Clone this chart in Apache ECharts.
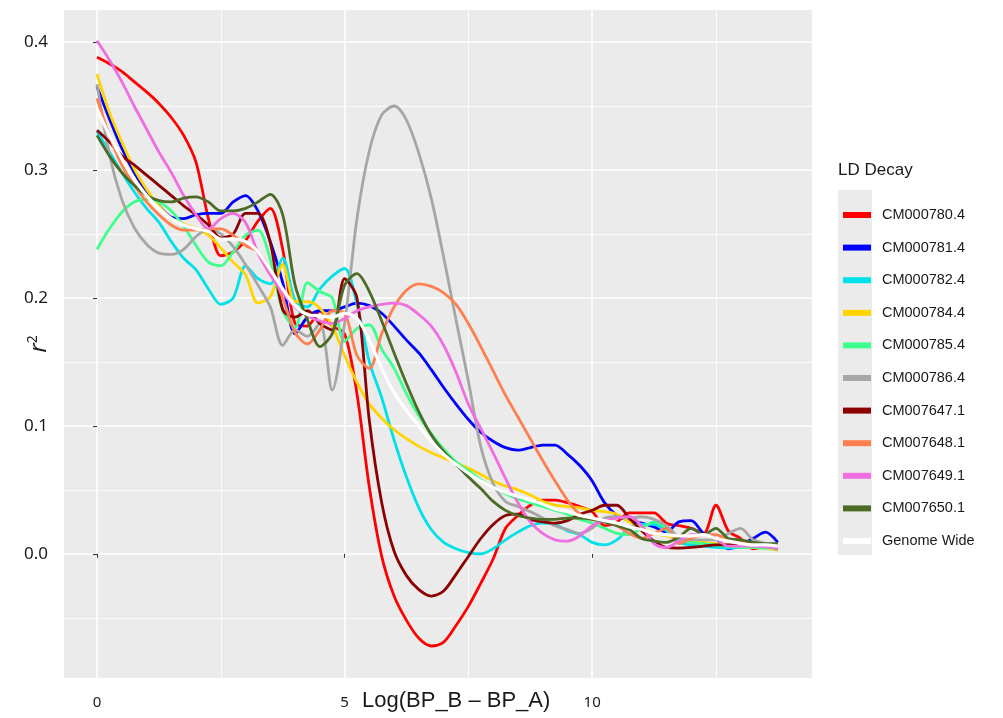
<!DOCTYPE html>
<html>
<head>
<meta charset="utf-8">
<script src="https://cdn.jsdelivr.net/npm/echarts@6/dist/echarts.min.js"></script>
<style>
  html, body { margin: 0; background: #fff; }
  #echarts { width: 1003px; height: 718px; }
</style>
</head>
<body>
<div id="echarts"></div>
<script>
// x positions: Log(BP_B - BP_A)
var xs = [0, 0.25, 0.5, 0.75, 1, 1.25, 1.5, 1.75, 2, 2.25,
  2.5, 2.75, 3, 3.25, 3.5, 3.75, 4, 4.25, 4.5, 4.75,
  5, 5.25, 5.5, 5.75, 6, 6.25, 6.5, 6.75, 7, 7.25,
  7.5, 7.75, 8, 8.25, 8.5, 8.75, 9, 9.25, 9.5, 9.75,
  10, 10.25, 10.5, 10.75, 11, 11.25, 11.5, 11.75, 12, 12.25,
  12.5, 12.75, 13, 13.25, 13.5, 13.75];

// r2 per chromosome
var cm780 = [0.388, 0.383, 0.377, 0.369, 0.361, 0.352, 0.341, 0.327, 0.306, 0.262,
  0.233, 0.236, 0.245, 0.260, 0.270, 0.238, 0.180, 0.178, 0.190, 0.178,
  0.172, 0.125, 0.052, -0.002, -0.033, -0.052, -0.066, -0.072, -0.069, -0.056,
  -0.041, -0.023, -0.004, 0.020, 0.030, 0.038, 0.042, 0.042, 0.040, 0.037,
  0.033, 0.022, 0.025, 0.032, 0.032, 0.032, 0.024, 0.022, 0.020, 0.016,
  0.038, 0.018, 0.012, 0.004, 0.006, 0.007];
var cm781 = [0.365, 0.340, 0.317, 0.298, 0.283, 0.272, 0.263, 0.262, 0.265, 0.266,
  0.266, 0.275, 0.280, 0.268, 0.244, 0.212, 0.172, 0.185, 0.190, 0.190,
  0.193, 0.196, 0.194, 0.188, 0.178, 0.167, 0.157, 0.144, 0.130, 0.117,
  0.105, 0.095, 0.088, 0.083, 0.081, 0.083, 0.085, 0.085, 0.078, 0.069,
  0.057, 0.040, 0.030, 0.026, 0.024, 0.021, 0.017, 0.025, 0.026, 0.016,
  0.012, 0.004, 0.007, 0.012, 0.017, 0.009];
var cm782 = [0.330, 0.314, 0.298, 0.283, 0.270, 0.259, 0.244, 0.231, 0.222, 0.207,
  0.195, 0.200, 0.225, 0.215, 0.211, 0.231, 0.198, 0.193, 0.207, 0.217,
  0.223, 0.195, 0.150, 0.122, 0.089, 0.060, 0.036, 0.019, 0.009, 0.004,
  0.001, 0.000, 0.004, 0.011, 0.017, 0.022, 0.024, 0.023, 0.018, 0.015,
  0.009, 0.007, 0.011, 0.020, 0.023, 0.023, 0.018, 0.009, 0.007, 0.006,
  0.005, 0.0045, 0.005, 0.006, 0.005, 0.0045];
var cm784 = [0.375, 0.345, 0.322, 0.301, 0.285, 0.272, 0.262, 0.258, 0.254, 0.249,
  0.239, 0.228, 0.218, 0.196, 0.201, 0.226, 0.197, 0.197, 0.192, 0.178,
  0.155, 0.134, 0.117, 0.106, 0.097, 0.090, 0.084, 0.079, 0.075, 0.071,
  0.067, 0.062, 0.057, 0.053, 0.050, 0.046, 0.041, 0.038, 0.037, 0.036,
  0.034, 0.033, 0.031, 0.025, 0.020, 0.016, 0.014, 0.012, 0.011, 0.009,
  0.008, 0.007, 0.006, 0.005, 0.0045, 0.003];
var cm785 = [0.238, 0.254, 0.267, 0.275, 0.277, 0.275, 0.268, 0.256, 0.241, 0.228,
  0.225, 0.236, 0.249, 0.253, 0.230, 0.190, 0.177, 0.212, 0.205, 0.200,
  0.166, 0.176, 0.179, 0.160, 0.145, 0.125, 0.108, 0.094, 0.082, 0.072,
  0.065, 0.058, 0.052, 0.047, 0.043, 0.040, 0.037, 0.034, 0.031, 0.027,
  0.024, 0.020, 0.016, 0.015, 0.020, 0.025, 0.020, 0.011, 0.009, 0.008,
  0.007, 0.006, 0.005, 0.005, 0.0045, 0.0045];
var cm786 = [0.367, 0.312, 0.277, 0.255, 0.242, 0.235, 0.234, 0.238, 0.248, 0.254,
  0.250, 0.240, 0.226, 0.210, 0.193, 0.163, 0.175, 0.170, 0.180, 0.128,
  0.180, 0.262, 0.315, 0.343, 0.350, 0.339, 0.313, 0.278, 0.232, 0.183,
  0.135, 0.084, 0.055, 0.041, 0.037, 0.033, 0.028, 0.022, 0.019, 0.016,
  0.020, 0.028, 0.029, 0.028, 0.029, 0.027, 0.022, 0.013, 0.011, 0.011,
  0.011, 0.016, 0.020, 0.011, 0.008, 0.003];
var cm7647 = [0.331, 0.322, 0.311, 0.304, 0.296, 0.288, 0.280, 0.272, 0.265, 0.257,
  0.247, 0.250, 0.266, 0.266, 0.243, 0.191, 0.185, 0.190, 0.180, 0.175,
  0.215, 0.200, 0.104, 0.040, 0.002, -0.017, -0.028, -0.033, -0.029, -0.016,
  -0.002, 0.012, 0.023, 0.030, 0.031, 0.027, 0.025, 0.024, 0.026, 0.031,
  0.034, 0.038, 0.038, 0.028, 0.018, 0.010, 0.005, 0.0045, 0.005, 0.006,
  0.007, 0.007, 0.007, 0.008, 0.007, 0.006];
var cm7648 = [0.356, 0.327, 0.304, 0.288, 0.275, 0.265, 0.257, 0.253, 0.253, 0.254,
  0.254, 0.249, 0.241, 0.236, 0.222, 0.200, 0.173, 0.164, 0.175, 0.190,
  0.188, 0.155, 0.145, 0.172, 0.193, 0.206, 0.211, 0.209, 0.204, 0.195,
  0.180, 0.162, 0.143, 0.124, 0.107, 0.090, 0.073, 0.057, 0.042, 0.031,
  0.027, 0.025, 0.022, 0.016, 0.012, 0.016, 0.020, 0.008, 0.012, 0.015,
  0.015, 0.011, 0.010, 0.007, 0.006, 0.0055];
var cm7649 = [0.401, 0.386, 0.369, 0.350, 0.332, 0.314, 0.298, 0.280, 0.265, 0.254,
  0.262, 0.266, 0.259, 0.235, 0.218, 0.204, 0.193, 0.186, 0.182, 0.180,
  0.184, 0.190, 0.193, 0.195, 0.196, 0.194, 0.187, 0.178, 0.163, 0.142,
  0.117, 0.098, 0.079, 0.059, 0.040, 0.025, 0.016, 0.011, 0.010, 0.014,
  0.022, 0.026, 0.028, 0.029, 0.022, 0.008, 0.005, 0.010, 0.015, 0.015,
  0.012, 0.006, 0.006, 0.006, 0.0055, 0.0045];
var cm7650 = [0.327, 0.311, 0.298, 0.288, 0.280, 0.276, 0.275, 0.278, 0.279, 0.275,
  0.268, 0.268, 0.270, 0.275, 0.281, 0.265, 0.210, 0.183, 0.162, 0.172,
  0.210, 0.219, 0.205, 0.182, 0.157, 0.133, 0.111, 0.093, 0.080, 0.070,
  0.060, 0.051, 0.041, 0.034, 0.030, 0.028, 0.027, 0.027, 0.028, 0.028,
  0.027, 0.025, 0.022, 0.019, 0.012, 0.010, 0.009, 0.013, 0.020, 0.015,
  0.020, 0.012, 0.011, 0.009, 0.008, 0.008];
var genome = [0.348, 0.327, 0.309, 0.293, 0.280, 0.270, 0.262, 0.257, 0.254, 0.252,
  0.246, 0.246, 0.244, 0.236, 0.222, 0.207, 0.194, 0.187, 0.186, 0.185,
  0.188, 0.184, 0.167, 0.145, 0.126, 0.112, 0.100, 0.088, 0.078, 0.070,
  0.063, 0.057, 0.052, 0.048, 0.045, 0.042, 0.039, 0.035, 0.033, 0.030,
  0.028, 0.026, 0.024, 0.021, 0.019, 0.016, 0.015, 0.014, 0.014, 0.015,
  0.012, 0.010, 0.008, 0.007, 0.007, 0.006];

var names = ["CM000780.4", "CM000781.4", "CM000782.4", "CM000784.4", "CM000785.4",
  "CM000786.4", "CM007647.1", "CM007648.1", "CM007649.1", "CM007650.1", "Genome Wide"];
var values = [cm780, cm781, cm782, cm784, cm785, cm786, cm7647, cm7648, cm7649, cm7650, genome];
var colors = ["#ff0000", "#0000ff", "#00e1ea", "#ffd400", "#3dff8c",
  "#a6a6a6", "#8b0000", "#ff7f4e", "#f06ee0", "#4b6b26", "#ffffff"];

// axis ticks / grid lines
var xTicks = [0, 5, 10];
var xMinor = [2.5, 7.5, 12.5];
var yTicks = [0, 0.1, 0.2, 0.3, 0.4];
var yMinor = [-0.05, 0.05, 0.15, 0.25, 0.35];

var chartDom = document.getElementById("echarts");
var myChart = echarts.init(chartDom);
var option;

var gridLines = [];
xTicks.forEach(function (v) { gridLines.push({ xAxis: v, lineStyle: { width: 1.6 } }); });
xMinor.forEach(function (v) { gridLines.push({ xAxis: v, lineStyle: { width: 0.8 } }); });
yTicks.forEach(function (v) { gridLines.push({ yAxis: v, lineStyle: { width: 1.6 } }); });
yMinor.forEach(function (v) { gridLines.push({ yAxis: v, lineStyle: { width: 0.8 } }); });

var series = [
  {
    // panel grid lines, kept under the curves
    type: "line",
    data: [],
    silent: true,
    z: 0,
    markLine: {
      silent: true,
      symbol: "none",
      animation: false,
      z: 0,
      label: { show: false },
      lineStyle: { color: "#ffffff", type: "solid" },
      data: gridLines
    }
  }
];

names.forEach(function (name, k) {
  series.push({
    name: name,
    type: "line",
    z: 3,
    data: xs.map(function (x, i) { return [x, values[k][i]]; }),
    showSymbol: false,
    smooth: 0.3,
    lineStyle: { color: colors[k], width: k === 10 ? 3.2 : 2.8 },
    itemStyle: { color: colors[k] }
  });
});

option = {
  animation: false,
  backgroundColor: "#ffffff",
  grid: {
    left: 64,
    right: 191,
    top: 10,
    bottom: 40,
    outerBoundsMode: "none",
    containLabel: false,
    show: true,
    backgroundColor: "#ebebeb",
    borderWidth: 0
  },
  xAxis: {
    type: "value",
    min: -0.667,
    max: 14.44,
    axisLine: { show: false },
    splitLine: { show: false },
    axisTick: { show: true, length: 4, customValues: xTicks, lineStyle: { color: "#333" } },
    axisLabel: {
      customValues: xTicks,
      margin: 17,
      fontSize: 15,
      color: "#1a1a1a",
      fontFamily: "Noto Sans"
    }
  },
  yAxis: {
    type: "value",
    min: -0.097,
    max: 0.425,
    axisLine: { show: false },
    splitLine: { show: false },
    axisTick: { show: true, length: 4, customValues: yTicks, lineStyle: { color: "#333" } },
    axisLabel: {
      customValues: yTicks,
      margin: 16,
      fontSize: 17,
      color: "#1a1a1a",
      fontFamily: "Noto Sans",
      formatter: function (v) { return v.toFixed(1); }
    },
    name: "{r|r}{s|2}",
    nameLocation: "middle",
    nameGap: 12,
    nameMoveOverlap: false,
    nameTextStyle: {
      rich: {
        r: { fontSize: 24, fontStyle: "italic", fontFamily: "Noto Sans", color: "#1a1a1a" },
        s: { fontSize: 14, fontFamily: "Noto Sans", color: "#1a1a1a", padding: [0, 0, 12, 0] }
      }
    }
  },
  legend: {
    data: names,
    orient: "vertical",
    left: 838,
    top: 201,
    icon: "rect",
    itemWidth: 28,
    itemHeight: 6,
    itemGap: 14.6,
    selectedMode: false,
    textStyle: {
      fontSize: 14.5,
      lineHeight: 18,
      color: "#1a1a1a",
      fontFamily: "Liberation Sans",
      padding: [0, 0, 0, 6]
    }
  },
  graphic: [
    {
      type: "rect",
      left: 838,
      top: 190,
      z: 0,
      shape: { width: 34, height: 365 },
      style: { fill: "#ebebeb" }
    },
    {
      type: "text",
      left: 838,
      top: 162,
      style: { text: "LD Decay", fontSize: 17, fontFamily: "Liberation Sans", fill: "#1a1a1a" }
    },
    {
      type: "text",
      left: 362,
      top: 690,
      style: { text: "Log(BP_B \u2013 BP_A)", fontSize: 22, fontFamily: "Liberation Sans", fill: "#1a1a1a" }
    }
  ],
  series: series
};

option && myChart.setOption(option);
</script>
</body>
</html>
